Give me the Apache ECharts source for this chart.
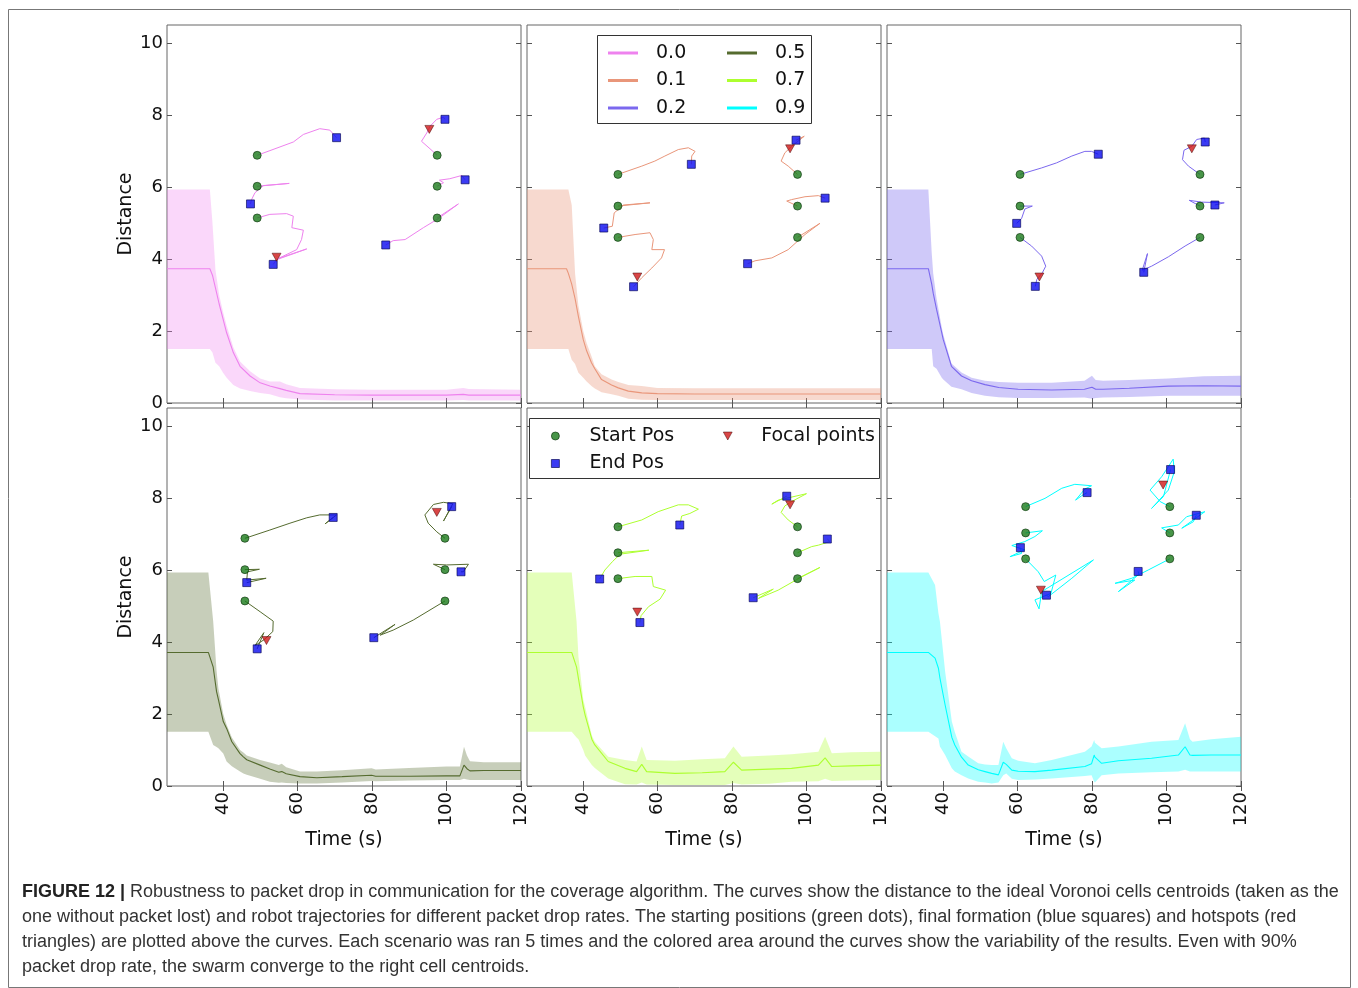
<!DOCTYPE html>
<html><head><meta charset="utf-8">
<script src="https://cdn.jsdelivr.net/npm/echarts@6/dist/echarts.min.js"></script>
<style>html,body{margin:0;padding:0;background:#fff}#c{width:1358px;height:988px}</style>
</head><body><div id="c"></div>
<script>
// ---------- data ----------
const rates = ['0.0', '0.1', '0.2', '0.5', '0.7', '0.9'];
const xTicks = [40, 60, 80, 100, 120];
const yTicks = [0, 2, 4, 6, 8, 10];

// distance curves (time, mean, lower, upper)
const time1 = [25, 36.5, 37.2, 38, 39, 40, 41, 42.8, 44.6, 47.3, 50, 52.6, 55.3, 57, 60.7, 70, 80, 90, 100, 104.5, 106, 120];
const mean1 = [3.73, 3.73, 3.55, 3.2, 2.75, 2.35, 1.95, 1.4, 1.02, 0.75, 0.56, 0.47, 0.40, 0.35, 0.26, 0.23, 0.22, 0.22, 0.22, 0.24, 0.22, 0.22];
const high1 = [5.93, 5.93, 5.0, 3.7, 3.0, 2.55, 2.15, 1.55, 1.15, 0.88, 0.68, 0.6, 0.6, 0.52, 0.42, 0.38, 0.37, 0.37, 0.37, 0.42, 0.39, 0.37];
const low1 = [1.5, 1.5, 1.4, 1.12, 1.02, 0.85, 0.7, 0.5, 0.4, 0.33, 0.28, 0.24, 0.16, 0.13, 0.1, 0.07, 0.07, 0.07, 0.07, 0.08, 0.07, 0.07];

const time2 = [25, 35.6, 36.1, 37, 37.9, 38.8, 40.1, 41, 42.3, 43.2, 45, 47.7, 49.5, 52.2, 55.8, 60, 70, 80, 90, 100, 110, 120];
const mean2 = [3.73, 3.73, 3.6, 3.3, 2.9, 2.4, 1.76, 1.45, 1.12, 0.95, 0.65, 0.5, 0.42, 0.33, 0.28, 0.26, 0.25, 0.25, 0.25, 0.25, 0.25, 0.25];
const high2 = [5.93, 5.93, 5.93, 5.5, 3.6, 2.7, 2.0, 1.67, 1.3, 1.02, 0.8, 0.65, 0.58, 0.5, 0.47, 0.42, 0.41, 0.41, 0.41, 0.41, 0.41, 0.41];
const low2 = [1.5, 1.5, 1.5, 1.2, 1.08, 0.84, 0.7, 0.6, 0.47, 0.4, 0.3, 0.24, 0.2, 0.12, 0.09, 0.08, 0.08, 0.08, 0.08, 0.08, 0.08, 0.08];

const time3 = [25, 36.1, 37, 37.4, 38.3, 39.7, 40.1, 42.3, 45, 47.7, 51.3, 55, 60.2, 69.2, 78, 80, 81, 83, 90, 100.5, 110, 120];
const mean3 = [3.73, 3.73, 3.3, 3.05, 2.6, 1.95, 1.76, 1.02, 0.75, 0.62, 0.51, 0.43, 0.38, 0.36, 0.38, 0.44, 0.38, 0.38, 0.41, 0.47, 0.48, 0.47];
const high3 = [5.93, 5.93, 4.17, 3.6, 2.9, 2.1, 1.9, 1.1, 0.85, 0.7, 0.62, 0.58, 0.56, 0.56, 0.62, 0.76, 0.64, 0.62, 0.64, 0.68, 0.74, 0.76];
const low3 = [1.5, 1.5, 1.5, 1.02, 0.95, 0.7, 0.65, 0.45, 0.38, 0.28, 0.2, 0.16, 0.14, 0.14, 0.15, 0.12, 0.14, 0.15, 0.17, 0.2, 0.2, 0.2];

const time4 = [25, 36.1, 37.4, 38.3, 38.8, 40.1, 41, 42.4, 44.6, 45.5, 46.4, 50, 52.6, 55, 55.8, 57, 60.7, 65.2, 72, 79.9, 81, 90, 100, 103.6, 104.7, 105.5, 106.3, 110, 120];
const mean4 = [3.71, 3.71, 3.3, 2.62, 2.4, 1.79, 1.6, 1.23, 0.9, 0.81, 0.73, 0.58, 0.47, 0.38, 0.4, 0.34, 0.26, 0.23, 0.26, 0.3, 0.27, 0.27, 0.28, 0.28, 0.58, 0.48, 0.42, 0.43, 0.43];
const high4 = [5.93, 5.93, 4.57, 3.2, 2.71, 2.0, 1.7, 1.35, 1.0, 0.93, 0.85, 0.72, 0.65, 0.58, 0.62, 0.52, 0.4, 0.4, 0.44, 0.49, 0.46, 0.5, 0.54, 0.54, 1.09, 0.85, 0.69, 0.66, 0.66];
const low4 = [1.51, 1.51, 1.14, 1.08, 1.05, 0.9, 0.68, 0.55, 0.4, 0.35, 0.31, 0.2, 0.12, 0.09, 0.1, 0.08, 0.07, 0.07, 0.1, 0.14, 0.13, 0.15, 0.17, 0.17, 0.2, 0.18, 0.17, 0.17, 0.17];

const time5 = [25, 37, 38.3, 38.8, 40.1, 40.6, 42.4, 43.2, 46.8, 51.3, 54.4, 55.8, 57.1, 64.7, 72, 78.1, 80.4, 82.6, 90, 96, 103.2, 105, 106.8, 112, 120];
const mean5 = [3.71, 3.71, 3.3, 2.99, 2.2, 1.97, 1.3, 1.14, 0.68, 0.49, 0.4, 0.6, 0.4, 0.35, 0.37, 0.4, 0.66, 0.44, 0.47, 0.49, 0.58, 0.78, 0.54, 0.56, 0.58];
const high5 = [5.93, 5.93, 4.57, 3.6, 2.4, 2.2, 1.4, 1.23, 0.81, 0.72, 0.68, 1.1, 0.72, 0.7, 0.74, 0.77, 1.1, 0.81, 0.85, 0.88, 0.95, 1.37, 0.91, 0.94, 0.95];
const low5 = [1.51, 1.51, 1.35, 1.3, 1.0, 0.85, 0.58, 0.5, 0.21, 0.05, 0.04, 0.1, 0.04, 0.03, 0.03, 0.03, 0.08, 0.04, 0.06, 0.12, 0.13, 0.2, 0.14, 0.15, 0.17];

const time6 = [25, 36.1, 37.9, 38.8, 39.2, 40.6, 42.4, 43.2, 45, 46.8, 49.5, 51.3, 53.1, 54.9, 56.2, 57, 58.5, 60.2, 64.7, 69.2, 78.1, 79.9, 80.6, 80.8, 82.6, 87.1, 96, 103.2, 105, 106.3, 107, 112, 120];
const mean6 = [3.71, 3.71, 3.55, 3.27, 3.0, 2.25, 1.35, 1.14, 0.8, 0.58, 0.45, 0.4, 0.35, 0.31, 0.66, 0.6, 0.44, 0.41, 0.4, 0.44, 0.54, 0.62, 0.86, 0.8, 0.63, 0.7, 0.77, 0.86, 1.09, 0.86, 0.85, 0.86, 0.86];
const high6 = [5.93, 5.93, 5.58, 4.8, 4.57, 3.18, 1.79, 1.5, 0.95, 0.82, 0.63, 0.6, 0.58, 0.58, 1.23, 1.05, 0.77, 0.7, 0.63, 0.72, 0.95, 1.1, 1.28, 1.2, 1.05, 1.1, 1.23, 1.28, 1.74, 1.3, 1.23, 1.3, 1.37];
const low6 = [1.51, 1.51, 1.38, 1.32, 1.1, 0.86, 0.49, 0.4, 0.3, 0.21, 0.12, 0.1, 0.07, 0.1, 0.3, 0.35, 0.2, 0.17, 0.18, 0.21, 0.28, 0.3, 0.12, 0.1, 0.3, 0.35, 0.38, 0.4, 0.45, 0.4, 0.4, 0.4, 0.4];

// robot positions drawn in the same axes: start, end, focal points, trajectories
const start1 = [[49.2, 6.88], [49.2, 6.02], [49.2, 5.14], [97.5, 6.88], [97.5, 6.02], [97.5, 5.14]];
const end1 = [[70.5, 7.37], [47.4, 5.53], [53.5, 3.85], [99.6, 7.88], [105.0, 6.2], [83.7, 4.39]];
const focal1 = [[54.4, 4.05], [95.4, 7.6]];
const traj1 = [
  [[49.2, 6.88], [58.9, 7.25], [61.6, 7.46], [66.0, 7.62], [68.7, 7.58], [70.5, 7.37]],
  [[49.2, 6.02], [57.8, 6.10], [50.9, 6.04], [48.6, 5.84], [47.7, 5.65], [47.4, 5.53]],
  [[49.2, 5.14], [52.6, 5.24], [57.1, 5.26], [58.9, 5.19], [58.5, 4.87], [61.6, 4.80], [61.1, 4.54], [59.8, 4.26], [55.0, 4.02], [62.5, 4.28], [54.4, 3.98], [53.5, 3.85]],
  [[97.5, 6.88], [95.6, 7.06], [93.3, 7.27], [94.7, 7.5], [95.6, 7.69], [97.4, 7.88], [99.2, 7.94], [99.6, 7.88]],
  [[97.5, 6.02], [99.2, 6.12], [98.1, 6.19], [100.9, 6.23], [104.1, 6.32], [105.0, 6.2]],
  [[97.5, 5.14], [103.2, 5.53], [97.8, 5.12], [93.8, 4.87], [88.9, 4.54], [85.7, 4.51], [83.7, 4.39]]
];

const start2 = [[49.4, 6.35], [49.4, 5.47], [49.4, 4.6], [97.6, 6.35], [97.6, 5.47], [97.6, 4.6]];
const end2 = [[69.1, 6.63], [45.6, 4.86], [53.6, 3.23], [97.2, 7.3], [105.0, 5.69], [84.2, 3.87]];
const focal2 = [[54.6, 3.5], [95.6, 7.06]];
const traj2 = [
  [[49.4, 6.35], [55.8, 6.58], [59.3, 6.72], [62.0, 6.86], [65.6, 7.04], [68.3, 7.09], [70.1, 6.99], [69.2, 6.86], [69.1, 6.63]],
  [[49.4, 5.47], [58.0, 5.56], [50.9, 5.5], [48.4, 5.28], [47.9, 4.91], [45.6, 4.86]],
  [[49.4, 4.6], [54.0, 4.68], [58.0, 4.73], [58.9, 4.54], [58.5, 4.26], [61.9, 4.26], [61.1, 4.03], [58.5, 3.75], [55.8, 3.48], [53.6, 3.23]],
  [[97.6, 6.35], [95.1, 6.58], [93.2, 6.72], [94.2, 6.95], [96.0, 7.13], [99.4, 7.41], [97.2, 7.3]],
  [[97.6, 5.47], [94.7, 5.61], [96.0, 5.65], [99.6, 5.73], [103.2, 5.76], [105.0, 5.69]],
  [[97.6, 4.6], [103.6, 4.99], [99.6, 4.68], [95.1, 4.26], [90.7, 4.03], [86.2, 3.95], [84.2, 3.87]]
];

const start3 = [[60.7, 6.35], [60.7, 5.47], [60.7, 4.6], [109.0, 6.35], [109.0, 5.47], [109.0, 4.6]];
const end3 = [[81.7, 6.91], [59.8, 4.99], [64.8, 3.24], [110.4, 7.25], [113.0, 5.5], [93.9, 3.63]];
const focal3 = [[65.9, 3.5], [106.8, 7.06]];
const traj3 = [
  [[60.7, 6.35], [66.5, 6.53], [70.5, 6.67], [74.6, 6.86], [78.1, 6.99], [79.9, 6.99], [81.7, 6.91]],
  [[60.7, 5.47], [64.0, 5.47], [62.0, 5.39], [61.1, 5.12], [59.8, 4.99]],
  [[60.7, 4.6], [63.8, 4.36], [66.5, 4.08], [67.6, 3.8], [66.7, 3.62], [65.2, 3.43], [64.8, 3.24]],
  [[109.0, 6.35], [105.9, 6.58], [104.3, 6.76], [104.7, 7.02], [106.8, 7.13], [108.1, 7.32], [110.2, 7.36], [110.4, 7.25]],
  [[109.0, 5.47], [106.1, 5.63], [109.4, 5.58], [115.5, 5.56], [113.0, 5.5]],
  [[109.0, 4.6], [105.0, 4.36], [100.5, 4.06], [96.0, 3.8], [93.5, 3.69], [94.9, 4.15], [93.9, 3.63]]
];

const start4 = [[45.9, 6.88], [45.9, 6.01], [45.9, 5.14], [99.6, 6.88], [99.6, 6.01], [99.6, 5.14]];
const end4 = [[69.6, 7.46], [46.4, 5.65], [49.2, 3.81], [101.4, 7.76], [103.9, 5.95], [80.5, 4.12]];
const focal4 = [[51.7, 4.04], [97.4, 7.6]];
const traj4 = [
  [[45.9, 6.88], [52.6, 7.11], [58.0, 7.3], [62.5, 7.45], [66.0, 7.53], [70.5, 7.53], [67.4, 7.28], [69.6, 7.46]],
  [[45.9, 6.01], [49.8, 6.02], [46.6, 5.95], [46.4, 5.72], [51.6, 5.77], [46.4, 5.65]],
  [[45.9, 5.14], [50.0, 4.84], [53.5, 4.58], [53.4, 4.29], [51.0, 4.06], [48.6, 3.9], [51.0, 4.26], [49.2, 3.81]],
  [[99.6, 6.88], [97.4, 7.06], [95.1, 7.3], [94.2, 7.53], [96.5, 7.82], [99.2, 7.88], [101.7, 7.84], [99.2, 7.36], [101.4, 7.76]],
  [[99.6, 6.01], [96.5, 6.16], [100.0, 6.14], [105.9, 6.16], [104.5, 5.95], [103.9, 5.95]],
  [[99.6, 5.14], [91.1, 4.61], [85.7, 4.33], [82.2, 4.19], [86.2, 4.49], [80.5, 4.12]]
];

const start5 = [[49.4, 7.2], [49.4, 6.48], [49.4, 5.76], [97.6, 7.2], [97.6, 6.48], [97.6, 5.76]];
const end5 = [[66.0, 7.25], [44.5, 5.75], [55.3, 4.54], [94.7, 8.05], [105.6, 6.86], [85.7, 5.23]];
const focal5 = [[54.6, 4.83], [95.6, 7.81]];
const traj5 = [
  [[49.4, 7.2], [55.8, 7.39], [60.2, 7.62], [65.6, 7.81], [68.3, 7.81], [71.0, 7.69], [68.7, 7.57], [66.5, 7.5], [66.0, 7.25]],
  [[49.4, 6.48], [57.7, 6.55], [50.0, 6.44], [47.9, 6.23], [45.9, 6.0], [44.5, 5.75]],
  [[49.4, 5.76], [54.0, 5.82], [58.5, 5.82], [58.9, 5.54], [62.2, 5.44], [60.7, 5.19], [57.6, 4.98], [55.6, 4.73], [55.3, 4.54]],
  [[97.6, 7.2], [95.1, 7.39], [93.2, 7.6], [94.2, 7.78], [96.0, 7.9], [100.0, 8.12], [92.4, 7.94], [90.7, 7.83], [94.7, 8.05]],
  [[97.6, 6.48], [101.4, 6.65], [103.2, 6.69], [106.3, 6.79], [105.6, 6.86]],
  [[97.6, 5.76], [103.6, 6.07], [98.7, 5.81], [92.4, 5.44], [87.1, 5.21], [91.1, 5.47], [85.7, 5.23]]
];

const start6 = [[62.2, 7.76], [62.2, 7.03], [62.2, 6.31], [100.9, 7.76], [100.9, 7.03], [100.9, 6.31]];
const end6 = [[78.7, 8.15], [60.8, 6.62], [67.8, 5.3], [101.1, 8.79], [108.0, 7.52], [92.4, 5.96]];
const focal6 = [[66.3, 5.44], [99.1, 8.36]];
const traj6 = [
  [[62.2, 7.76], [67.4, 7.99], [71.9, 8.27], [75.4, 8.38], [79.9, 8.34], [78.1, 8.25], [75.6, 7.94], [77.2, 8.06], [78.7, 8.15]],
  [[62.2, 7.03], [66.7, 7.09], [64.7, 6.93], [62.0, 6.79], [58.5, 6.68], [61.9, 6.56], [58.0, 6.37], [61.1, 6.46], [60.8, 6.62]],
  [[62.2, 6.31], [65.6, 5.95], [67.2, 5.68], [70.3, 5.86], [69.0, 5.35], [64.7, 5.17], [65.8, 4.92], [66.5, 5.4], [80.4, 6.28], [74.6, 5.77], [68.3, 5.26], [67.8, 5.3]],
  [[100.9, 7.76], [98.3, 7.9], [95.6, 8.22], [98.7, 8.59], [100.5, 8.87], [101.8, 9.08], [102.1, 8.73], [100.5, 8.22], [96.0, 7.71], [99.2, 8.04], [101.1, 8.79]],
  [[100.9, 7.03], [98.7, 7.17], [103.2, 7.25], [105.4, 7.48], [110.3, 7.62], [104.1, 7.16], [107.2, 7.34], [108.0, 7.52]],
  [[100.9, 6.31], [95.1, 6.0], [90.7, 5.77], [86.2, 5.63], [91.5, 5.72], [87.1, 5.4], [92.6, 5.88], [92.4, 5.96]]
];

const captionLines = [
  '{b|FIGURE 12 |} Robustness to packet drop in communication for the coverage algorithm. The curves show the distance to the ideal Voronoi cells centroids (taken as the',
  'one without packet lost) and robot trajectories for different packet drop rates. The starting positions (green dots), final formation (blue squares) and hotspots (red',
  'triangles) are plotted above the curves. Each scenario was ran 5 times and the colored area around the curves show the variability of the results. Even with 90%',
  'packet drop rate, the swarm converge to the right cell centroids.'
];

// ---------- styles / layout ----------
const colors = ['#EE82EE', '#E9967A', '#7B68EE', '#556B2F', '#ADFF2F', '#00FFFF'];
const fills = ['rgba(238,130,238,0.32)', 'rgba(233,150,122,0.36)', 'rgba(123,104,238,0.36)', 'rgba(85,107,47,0.33)', 'rgba(173,255,47,0.33)', 'rgba(0,255,255,0.33)'];
const FONT = "'DejaVu Sans', sans-serif";
const CAPFONT = "'Liberation Sans', Arial, sans-serif";
const panels = [
  {t: time1, m: mean1, lo: low1, hi: high1, s: start1, e: end1, f: focal1, tr: traj1},
  {t: time2, m: mean2, lo: low2, hi: high2, s: start2, e: end2, f: focal2, tr: traj2},
  {t: time3, m: mean3, lo: low3, hi: high3, s: start3, e: end3, f: focal3, tr: traj3},
  {t: time4, m: mean4, lo: low4, hi: high4, s: start4, e: end4, f: focal4, tr: traj4},
  {t: time5, m: mean5, lo: low5, hi: high5, s: start5, e: end5, f: focal5, tr: traj5},
  {t: time6, m: mean6, lo: low6, hi: high6, s: start6, e: end6, f: focal6, tr: traj6}
];
const colLeft = [167, 527, 887];
const rowTop = [25, 408];
const GW = 354, GH = 378;
const TRI = 'path://M0,0L10,0L5,9Z';
const startStyle = {color: '#1a7a1a', borderColor: '#0b330b', borderWidth: 0.8};
const endStyle = {color: '#0a0af0', borderColor: '#000050', borderWidth: 0.8};
const focalStyle = {color: '#d01818', borderColor: '#400000', borderWidth: 0.6};

const grids = [], xAxes = [], yAxes = [], series = [];
for (let i = 0; i < 6; i++) {
  const col = i % 3, row = Math.floor(i / 3);
  grids.push({left: colLeft[col], top: rowTop[row], width: GW, height: GH, show: true,
    borderColor: '#666', borderWidth: 1, backgroundColor: 'transparent'});
  const bottomRow = row === 1, leftCol = col === 0;
  xAxes[i] = {type: 'value', gridIndex: i, min: 25, max: 120, position: 'bottom',
    axisLine: {show: false}, splitLine: {show: false},
    axisTick: {show: true, inside: true, length: 5, customValues: xTicks, lineStyle: {color: '#555'}},
    axisLabel: {show: bottomRow, customValues: xTicks, rotate: 90, margin: 6, fontSize: 18, fontFamily: FONT, color: '#111'},
    name: bottomRow ? 'Time (s)' : '', nameLocation: 'middle', nameGap: 42,
    nameTextStyle: {fontSize: 19, fontFamily: FONT, color: '#111'}};
  xAxes[6 + i] = {type: 'value', gridIndex: i, min: 25, max: 120, position: 'top',
    axisLine: {show: false}, splitLine: {show: false}, axisLabel: {show: false},
    axisTick: {show: true, inside: true, length: 5, customValues: xTicks, lineStyle: {color: '#555'}}};
  yAxes[i] = {type: 'value', gridIndex: i, min: 0, max: 10.5, position: 'left',
    axisLine: {show: false}, splitLine: {show: false},
    axisTick: {show: true, inside: true, length: 5, customValues: yTicks, lineStyle: {color: '#555'}},
    axisLabel: {show: leftCol, customValues: yTicks, margin: 4, fontSize: 18, fontFamily: FONT, color: '#111'},
    name: leftCol ? 'Distance' : '', nameLocation: 'middle', nameGap: 31,
    nameTextStyle: {fontSize: 19, fontFamily: FONT, color: '#111'}};
  yAxes[6 + i] = {type: 'value', gridIndex: i, min: 0, max: 10.5, position: 'right',
    axisLine: {show: false}, splitLine: {show: false}, axisLabel: {show: false},
    axisTick: {show: true, inside: true, length: 5, customValues: yTicks, lineStyle: {color: '#555'}}};

  const p = panels[i];
  // variability band
  series.push({type: 'custom', name: rates[i] + ' band', xAxisIndex: i, yAxisIndex: i, z: 1, silent: true,
    data: p.t.map((x, k) => [x, p.lo[k], p.hi[k]]),
    encode: {x: 0, y: [1, 2]},
    renderItem: function (params, api) {
      if (params.dataIndex !== 0) return null;
      const pts = [];
      for (let k = 0; k < p.t.length; k++) pts.push(api.coord([p.t[k], p.hi[k]]));
      for (let k = p.t.length - 1; k >= 0; k--) pts.push(api.coord([p.t[k], p.lo[k]]));
      return {type: 'polygon', shape: {points: pts}, style: {fill: fills[i], stroke: null}};
    }});
  // mean distance
  series.push({type: 'line', name: rates[i], xAxisIndex: i, yAxisIndex: i, z: 2, silent: true,
    showSymbol: false, symbol: 'none', color: colors[i],
    lineStyle: {color: colors[i], width: 1.1},
    data: p.t.map((x, k) => [x, p.m[k]])});
  // trajectories
  p.tr.forEach((path, r) => {
    series.push({type: 'line', name: rates[i] + ' traj' + r, xAxisIndex: i, yAxisIndex: i, z: 3, silent: true,
      showSymbol: false, symbol: 'none', lineStyle: {color: colors[i], width: 1}, data: path});
  });
  series.push({type: 'scatter', name: 'Start Pos', xAxisIndex: i, yAxisIndex: i, z: 4, silent: true,
    symbol: 'circle', symbolSize: 8, itemStyle: startStyle, data: p.s});
  series.push({type: 'scatter', name: 'End Pos', xAxisIndex: i, yAxisIndex: i, z: 4, silent: true,
    symbol: 'rect', symbolSize: 8, itemStyle: endStyle, data: p.e});
  series.push({type: 'scatter', name: 'Focal points', xAxisIndex: i, yAxisIndex: i, z: 5, silent: true,
    symbol: TRI, symbolSize: [9, 8], itemStyle: focalStyle, data: p.f});
}

const legText = {fontSize: 19, fontFamily: FONT, color: '#111', lineHeight: 20};
function rateLegend(names, left) {
  return {orient: 'vertical', left: left, top: 43, padding: 0, itemWidth: 30, itemHeight: 3, itemGap: 7.5,
    selectedMode: false, z: 10,
    textStyle: Object.assign({padding: [0, 0, 0, 13]}, legText),
    data: names.map(n => ({name: n, icon: 'rect', itemStyle: {color: colors[rates.indexOf(n)]}}))};
}
const legends = [
  rateLegend(['0.0', '0.1', '0.2'], 608),
  rateLegend(['0.5', '0.7', '0.9'], 727),
  {orient: 'vertical', left: 551, top: 426, padding: 0, itemWidth: 8, itemHeight: 8, itemGap: 7.5,
    selectedMode: false, z: 10, textStyle: Object.assign({padding: [0, 0, 0, 25]}, legText),
    data: [{name: 'Start Pos', icon: 'circle', itemStyle: startStyle},
           {name: 'End Pos', icon: 'rect', itemStyle: endStyle}]},
  {orient: 'vertical', left: 723, top: 426, padding: 0, itemWidth: 9, itemHeight: 8, itemGap: 7.5,
    selectedMode: false, z: 10, textStyle: Object.assign({padding: [0, 0, 0, 24]}, legText),
    data: [{name: 'Focal points', icon: TRI, itemStyle: focalStyle}]}
];

const graphics = [
  {type: 'rect', z: -10, shape: {x: 8.5, y: 9.5, width: 1342, height: 978},
    style: {fill: 'none', stroke: '#777', lineWidth: 1}},
  {type: 'rect', z: 9, shape: {x: 597.5, y: 35.5, width: 214, height: 88},
    style: {fill: '#fff', stroke: '#333', lineWidth: 1}},
  {type: 'rect', z: 9, shape: {x: 529.5, y: 418.5, width: 350, height: 60},
    style: {fill: '#fff', stroke: '#333', lineWidth: 1}}
];
captionLines.forEach((line, k) => {
  graphics.push({type: 'text', left: 22, top: 883 + k * 25, z: 10,
    style: {text: line, fontSize: 18, fontFamily: CAPFONT, fill: '#333',
      rich: {b: {fontSize: 18, fontWeight: 'bold', fontFamily: CAPFONT, fill: '#222'}}}});
});

const chart = echarts.init(document.getElementById('c'), null, {renderer: 'canvas'});
chart.setOption({
  backgroundColor: '#fff',
  animation: false,
  grid: grids, xAxis: xAxes, yAxis: yAxes, series: series,
  legend: legends, graphic: graphics
});
</script></body></html>
